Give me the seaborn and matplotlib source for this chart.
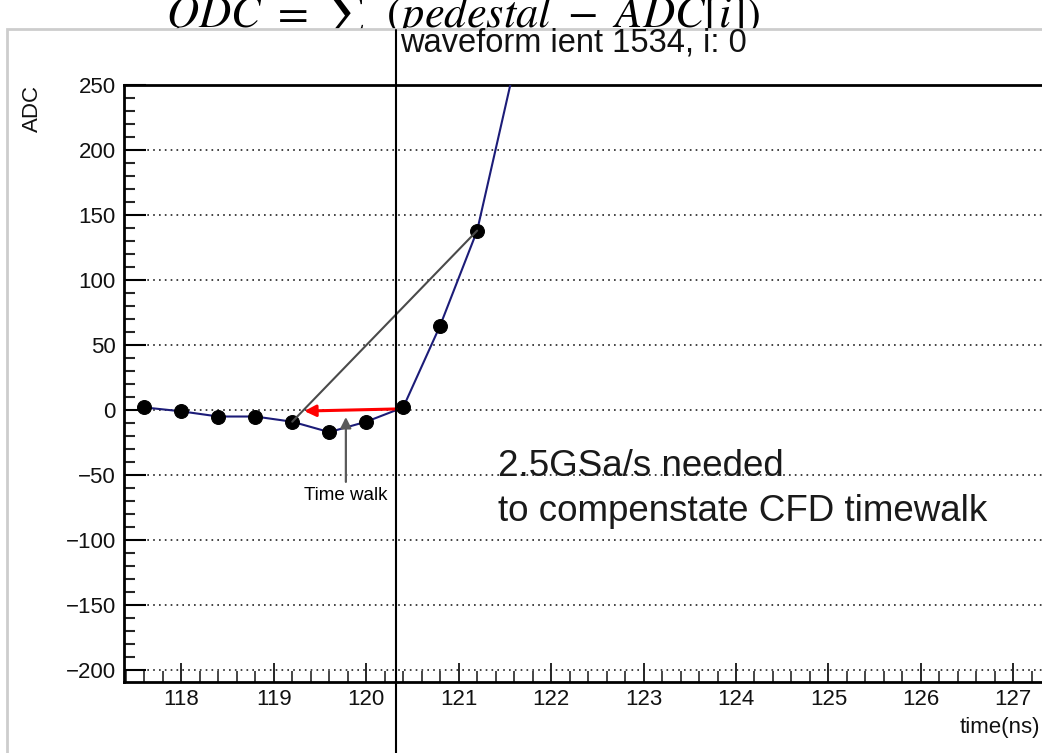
import matplotlib
matplotlib.use("Agg")
import matplotlib.pyplot as plt
import seaborn as sns
import pandas as pd
from matplotlib.ticker import MultipleLocator
from matplotlib.patches import Rectangle
from matplotlib.lines import Line2D

# ---------------- data ----------------
time_ns = [117.6, 118.0, 118.4, 118.8, 119.2, 119.6, 120.0, 120.4, 120.8, 121.2, 121.6]
adc = [2, -1, -5, -5, -9, -17, -9, 2, 65, 138, 263]
x_ticks = [118, 119, 120, 121, 122, 123, 124, 125, 126, 127]
y_ticks = [-200, -150, -100, -50, 0, 50, 100, 150, 200, 250]
title_text = "waveform ient 1534, i: 0"
formula_text = r"$QDC\ =\ \sum\ \ (pedestal\ -\ ADC[i])$"
note_line1 = "2.5GSa/s needed"
note_line2 = "to compenstate CFD timewalk"
walk_label = "Time walk"

df = pd.DataFrame({"time": time_ns, "adc": adc})

# ---------------- style ----------------
sns.set_style("white")
plt.rcParams["font.family"] = ["Liberation Sans", "DejaVu Sans"]
plt.rcParams["mathtext.fontset"] = "stix"

W, H = 1042, 753
fig = plt.figure(figsize=(W / 100, H / 100), dpi=100)
fig.patch.set_facecolor("white")

# formula at the very top (partly hidden by the canvas)
fig.text(166 / W, 1 - 27 / H, formula_text, fontsize=32, va="baseline",
         ha="left", color="black", zorder=0.2)

# ROOT canvas frame
canvas = Rectangle((7 / W, -0.05), 1.2, 1 - 29 / H + 0.05, transform=fig.transFigure,
                   facecolor="white", edgecolor="#cdcdcd", lw=2, zorder=0.5)
fig.add_artist(canvas)

ax = fig.add_axes([124 / W, 1 - 682 / H, 1 - 124 / W, (682 - 85) / H])
ax.set_zorder(1)

sns.lineplot(data=df, x="time", y="adc", ax=ax, color="#1c1c78", lw=1.5,
             marker="o", markersize=10, markerfacecolor="black",
             markeredgecolor="black", clip_on=True, zorder=3)

ax.set_xlim(117.38, 127.31)
ax.set_ylim(-209.2, 250)
ax.set_xticks(x_ticks)
ax.set_yticks(y_ticks)
ax.xaxis.set_minor_locator(MultipleLocator(0.2))
ax.yaxis.set_minor_locator(MultipleLocator(10))

ax.tick_params(axis="y", which="major", direction="in", length=16, width=1.5,
               labelsize=16, pad=6, color="black", labelcolor="#111111", left=True)
ax.tick_params(axis="y", which="minor", direction="in", length=8, width=1.5,
               left=True)
ax.tick_params(axis="x", which="major", direction="in", length=14, width=1.2,
               labelsize=16, pad=5, color="black", labelcolor="#111111", bottom=True)
ax.tick_params(axis="x", which="minor", direction="in", length=8, width=1.2,
               bottom=True)

for side in ["left", "bottom", "top"]:
    ax.spines[side].set_color("black")
    ax.spines[side].set_linewidth(2)
ax.spines["right"].set_visible(False)

ax.yaxis.grid(True, linestyle=(0, (1, 2.5)), color="#222222", lw=1.2)
ax.xaxis.grid(False)

ax.set_xlabel("")
ax.set_ylabel("")

# axis labels placed like ROOT
fig.text(1040 / W, 1 - 727 / H, "time(ns)", fontsize=16, ha="right", va="center",
         color="#111111")
fig.text(32 / W, 1 - 85 / H, "ADC", fontsize=16, rotation=90, ha="center", va="top",
         color="#111111")

# annotations
ax.plot([time_ns[4], time_ns[9]], [adc[4], adc[9]], color="#4a4a4a", lw=1.5, zorder=4)
ax.annotate("", xy=(119.33, -0.8), xytext=(120.32, 0.8),
            arrowprops=dict(arrowstyle="-|>", color="red", lw=2.2,
                            mutation_scale=17, shrinkA=0, shrinkB=0), zorder=5)
ax.annotate(walk_label, xy=(119.78, -5.4), xytext=(119.78, -65.4),
            ha="center", va="center", fontsize=13.5, color="black",
            arrowprops=dict(arrowstyle="-|>", color="#5a5a5a", lw=1.6,
                            mutation_scale=16, shrinkA=1, shrinkB=0), zorder=5)

fig.text(498 / W, 1 - 476 / H, note_line1, fontsize=26.5, ha="left",
         va="baseline", color="#1a1a1a", zorder=3)
fig.text(498 / W, 1 - 521 / H, note_line2, fontsize=26.5, ha="left",
         va="baseline", color="#1a1a1a", zorder=3)

# title
fig.text(400 / W, 1 - 43 / H, title_text, fontsize=23.5, ha="left", va="center",
         color="#111111", zorder=3)

# slide vertical line
fig.add_artist(Line2D([396 / W, 396 / W], [0, 1 - 30 / H], transform=fig.transFigure,
                      color="black", lw=1.5, zorder=4))

fig.savefig("out.png", dpi=100)
